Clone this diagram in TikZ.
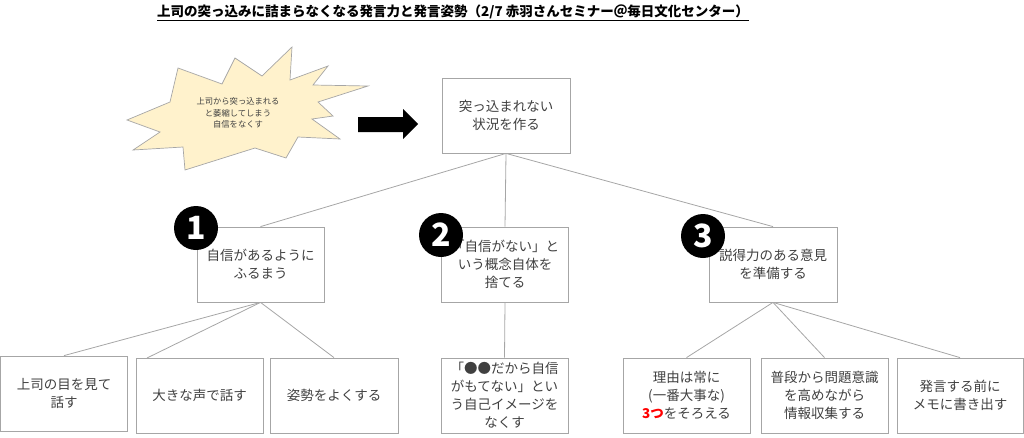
\documentclass[tikz,border=0pt]{standalone}
\usepackage{fontspec}
\setmainfont{Noto Sans CJK JP}
\setsansfont{Noto Sans CJK JP}
\usetikzlibrary{calc}
\definecolor{boxgray}{HTML}{A6A6A6}
\definecolor{txtgray}{HTML}{404040}
\definecolor{starfill}{HTML}{FFF2CC}
\definecolor{starline}{HTML}{A6A6A6}
\definecolor{redtxt}{HTML}{FF0000}
\begin{document}
\begin{tikzpicture}[x=1pt,y=-1pt,
  box/.style={draw=boxgray,line width=0.8pt,minimum width=127pt,minimum height=75pt,inner sep=0pt,align=center,text=txtgray,font=\fontsize{13.5}{18}\selectfont},
  conn/.style={draw=boxgray,line width=0.8pt},
  numcirc/.style={circle,fill=black,minimum size=44pt,inner sep=0pt,text=white,font=\fontsize{32}{32}\selectfont\bfseries}]
\useasboundingbox (0,0) rectangle (1024,437);
% title
\node[font=\fontsize{13.5}{15}\selectfont\bfseries,text=black] (title) at (453,13) {\underline{上司の突っ込みに詰まらなくなる発言力と発言姿勢（2/7 赤羽さんセミナー＠毎日文化センター）}};
% starburst
\draw[draw=starline,fill=starfill,line width=0.7pt]
 (127,120) -- (170,102) -- (178,68) -- (222,84) -- (235,58) -- (262,76) -- (292,47) -- (290,80) -- (328,66) -- (313,85) -- (368,86) -- (318,102) -- (333,116) -- (312,119) -- (340,139) -- (298,137) -- (286,158) -- (255,148) -- (185,170) -- (183,147) -- (133,150) -- (160,132) -- cycle;
\node[align=center,text=txtgray,font=\fontsize{8.3}{11.5}\selectfont] (star) at (238,113) {上司から突っ込まれる\\と萎縮してしまう\\自信をなくす};
% big arrow
\fill[black] (358,117) -- (403,117) -- (403,109) -- (418,124) -- (403,139) -- (403,132) -- (358,132) -- cycle;
% boxes
\node[box,minimum width=128pt] (top) at (506,115.5) {突っ込まれない\\状況を作る};
\node[box] (b1) at (260.5,264.5) {自信があるように\\ふるまう};
\node[box] (b2) at (505,264.5) {「自信がない」と\\いう概念自体を\\捨てる};
\node[box,minimum width=128pt] (b3) at (773,264.5) {説得力のある意見\\を準備する};
\node[box] (ba) at (64,393.5) {上司の目を見て\\話す};
\node[box] (bb) at (199.5,395.5) {大きな声で話す};
\node[box,minimum width=128pt] (bc) at (334,395.5) {姿勢をよくする};
\node[box] (bd) at (504.5,395.5) {「●●だから自信\\がもてない」とい\\う自己イメージを\\なくす};
\node[box] (be) at (686.5,395.5) {理由は常に\\(一番大事な)\\{\color{redtxt}\bfseries 3つ}をそろえる};
\node[box] (bf) at (824.5,395.5) {普段から問題意識\\を高めながら\\情報収集する};
\node[box,minimum width=126pt] (bg) at (960,395.5) {発言する前に\\メモに書き出す};
% connectors
\coordinate (bbin) at (147,358);
\draw[conn] (top.south) -- (b1.north);
\draw[conn] (top.south) -- (b2.north);
\draw[conn] (top.south) -- (b3.north);
\draw[conn] (b1.south) -- (ba.north);
\draw[conn] (b1.south) -- (bbin);
\draw[conn] (b1.south) -- (bc.north);
\draw[conn] (b2.south) -- (bd.north);
\draw[conn] (b3.south) -- (be.north);
\draw[conn] (b3.south) -- (bf.north);
\draw[conn] (b3.south) -- (bg.north);
% number circles
\node[numcirc] (n1) at (196,228) {1};
\node[numcirc] (n2) at (441,235) {2};
\node[numcirc] (n3) at (703,236) {3};
\end{tikzpicture}
\end{document}
